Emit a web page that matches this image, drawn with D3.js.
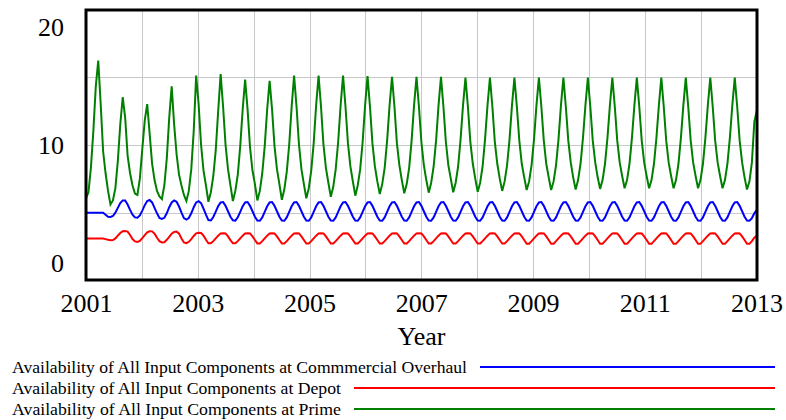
<!DOCTYPE html>
<html><head><meta charset="utf-8">
<script src="https://cdn.jsdelivr.net/npm/d3@7"></script>
<style>
body{margin:0;background:#fff}
svg{display:block}
text{font-family:"Liberation Serif","Times New Roman",serif;fill:#000}
</style>
</head><body>
<svg id="chart" width="786" height="420"></svg>
<script>
// ---------- data ----------
const seriesNames = [
  "Availability of All Input Components at Commmercial Overhaul",
  "Availability of All Input Components at Depot",
  "Availability of All Input Components at Prime"
];
const seriesColors = ["#0000ff", "#ff0000", "#008000"];
const startYear = 2001;
const sampleStep = 0.043815; // years between saved values

const commercialOverhaul = [
  5.0,5.0,5.0,5.0,5.0,5.0,5.0,5.0,4.85,4.7,
  4.68,4.75,5.0,5.35,5.7,5.9,5.9,5.6,5.2,4.85,
  4.65,4.62,4.8,5.15,5.55,5.85,5.93,5.75,5.35,4.95,
  4.6,4.53,4.62,4.95,5.4,5.75,5.9,5.8,5.45,5.0,
  4.6,4.49,4.6,4.95,5.4,5.75,5.85,5.7,5.3,4.85,
  4.45,4.42,4.68,5.08,5.48,5.75,5.78,5.5,5.1,4.7,
  4.43,4.41,4.66,5.06,5.47,5.75,5.78,5.5,5.1,4.7,
  4.42,4.4,4.65,5.05,5.47,5.75,5.78,5.5,5.1,4.7,
  4.42,4.4,4.65,5.05,5.47,5.75,5.78,5.5,5.1,4.7,
  4.42,4.4,4.65,5.05,5.47,5.75,5.78,5.5,5.1,4.7,
  4.42,4.4,4.65,5.05,5.47,5.75,5.78,5.5,5.1,4.7,
  4.42,4.4,4.65,5.05,5.47,5.75,5.78,5.5,5.1,4.7,
  4.42,4.4,4.65,5.05,5.47,5.75,5.78,5.5,5.1,4.7,
  4.42,4.4,4.65,5.05,5.47,5.75,5.78,5.5,5.1,4.7,
  4.42,4.4,4.65,5.05,5.47,5.75,5.78,5.5,5.1,4.7,
  4.42,4.4,4.65,5.05,5.47,5.75,5.78,5.5,5.1,4.7,
  4.42,4.4,4.65,5.05,5.47,5.75,5.78,5.5,5.1,4.7,
  4.42,4.4,4.65,5.05,5.47,5.75,5.78,5.5,5.1,4.7,
  4.42,4.4,4.65,5.05,5.47,5.75,5.78,5.5,5.1,4.7,
  4.42,4.4,4.65,5.05,5.47,5.75,5.78,5.5,5.1,4.7,
  4.42,4.4,4.65,5.05,5.47,5.75,5.78,5.5,5.1,4.7,
  4.42,4.4,4.65,5.05,5.47,5.75,5.78,5.5,5.1,4.7,
  4.42,4.4,4.65,5.05,5.47,5.75,5.78,5.5,5.1,4.7,
  4.42,4.4,4.65,5.05,5.47,5.75,5.78,5.5,5.1,4.7,
  4.42,4.4,4.65,5.05,5.47,5.75,5.78,5.5,5.1,4.7,
  4.42,4.4,4.65,5.05,5.47,5.75,5.78,5.5,5.1,4.7,
  4.42,4.4,4.65,5.05,5.47,5.75,5.78,5.5,5.1,4.7,
  4.42,4.4,4.6,4.95,5.2
];

const depot = [
  3.1,3.1,3.1,3.1,3.1,3.1,3.1,3.1,3.05,3.0,
  2.96,2.98,3.1,3.3,3.5,3.63,3.65,3.6,3.35,3.05,
  2.88,2.84,2.92,3.12,3.35,3.55,3.63,3.62,3.45,3.15,
  2.9,2.8,2.82,3.0,3.22,3.45,3.58,3.6,3.45,3.1,
  2.8,2.75,2.85,3.05,3.28,3.47,3.52,3.5,3.3,3.0,
  2.74,2.74,2.9,3.1,3.3,3.47,3.48,3.47,3.25,2.98,
  2.74,2.74,2.9,3.1,3.3,3.47,3.48,3.47,3.25,2.98,
  2.73,2.73,2.9,3.1,3.3,3.47,3.48,3.47,3.25,2.98,
  2.73,2.73,2.9,3.1,3.3,3.47,3.48,3.47,3.25,2.98,
  2.72,2.72,2.9,3.1,3.3,3.47,3.48,3.47,3.25,2.98,
  2.72,2.72,2.9,3.1,3.3,3.47,3.48,3.47,3.25,2.98,
  2.72,2.72,2.9,3.1,3.3,3.47,3.48,3.47,3.25,2.98,
  2.72,2.72,2.9,3.1,3.3,3.47,3.48,3.47,3.25,2.98,
  2.72,2.72,2.9,3.1,3.3,3.47,3.48,3.47,3.25,2.98,
  2.72,2.72,2.9,3.1,3.3,3.47,3.48,3.47,3.25,2.98,
  2.72,2.72,2.9,3.1,3.3,3.47,3.48,3.47,3.25,2.98,
  2.72,2.72,2.9,3.1,3.3,3.47,3.48,3.47,3.25,2.98,
  2.72,2.72,2.9,3.1,3.3,3.47,3.48,3.47,3.25,2.98,
  2.71,2.71,2.9,3.1,3.3,3.47,3.48,3.47,3.25,2.98,
  2.71,2.71,2.9,3.1,3.3,3.47,3.48,3.47,3.25,2.98,
  2.71,2.71,2.9,3.1,3.3,3.47,3.48,3.47,3.25,2.98,
  2.71,2.71,2.9,3.1,3.3,3.47,3.48,3.47,3.25,2.98,
  2.7,2.7,2.9,3.1,3.3,3.47,3.48,3.47,3.25,2.98,
  2.7,2.7,2.9,3.1,3.3,3.47,3.48,3.47,3.25,2.98,
  2.7,2.7,2.9,3.1,3.3,3.47,3.48,3.47,3.25,2.98,
  2.7,2.7,2.9,3.1,3.3,3.47,3.48,3.47,3.25,2.98,
  2.7,2.7,2.9,3.1,3.3,3.47,3.48,3.47,3.25,2.98,
  2.7,2.7,2.9,3.15,3.3
];

const prime = [
  6.05,6.5,8.3,11.0,14.3,16.2,13.0,9.5,7.9,6.6,
  5.6,5.9,6.8,8.8,11.5,13.5,12.0,9.2,7.9,7.0,
  6.4,6.3,7.5,9.7,11.8,13.0,10.8,8.6,7.4,6.6,
  6.2,6.0,7.0,9.0,12.0,14.3,11.5,9.3,7.8,7.0,
  6.3,5.85,6.6,8.2,11.0,15.1,13.0,10.0,8.1,7.0,
  5.8,6.5,7.7,9.6,12.5,15.2,12.8,10.0,8.2,7.0,
  5.85,6.6,7.8,9.9,12.6,14.8,12.6,9.8,8.1,7.1,
  5.9,6.6,7.9,9.9,12.6,14.7,12.6,9.9,8.2,7.1,
  5.95,6.7,8.0,10.0,12.8,15.1,12.8,10.0,8.2,7.1,
  6.05,6.8,8.1,10.1,12.9,15.1,12.8,10.0,8.3,7.2,
  6.17,6.9,8.2,10.2,12.9,15.1,12.8,10.1,8.4,7.3,
  6.25,7.0,8.2,10.2,12.9,15.05,12.8,10.1,8.4,7.3,
  6.37,7.1,8.3,10.3,12.9,15.0,12.8,10.1,8.5,7.4,
  6.42,7.1,8.3,10.3,12.9,15.0,12.8,10.2,8.5,7.4,
  6.47,7.2,8.4,10.3,12.9,15.0,12.8,10.2,8.5,7.5,
  6.5,7.2,8.4,10.4,12.9,14.95,12.8,10.2,8.6,7.5,
  6.54,7.2,8.4,10.4,12.9,14.95,12.8,10.2,8.6,7.5,
  6.6,7.3,8.5,10.4,12.9,14.95,12.8,10.3,8.6,7.6,
  6.67,7.3,8.5,10.4,12.9,14.95,12.8,10.3,8.6,7.6,
  6.67,7.3,8.5,10.4,12.9,14.95,12.8,10.3,8.7,7.6,
  6.7,7.4,8.6,10.5,12.9,14.95,12.8,10.3,8.7,7.6,
  6.75,7.4,8.6,10.5,12.9,14.95,12.8,10.3,8.7,7.7,
  6.8,7.4,8.6,10.5,12.9,14.95,12.8,10.3,8.7,7.7,
  6.8,7.4,8.6,10.5,12.9,14.95,12.8,10.3,8.7,7.7,
  6.8,7.4,8.6,10.5,12.9,14.95,12.8,10.3,8.7,7.7,
  6.8,7.4,8.6,10.5,12.9,14.95,12.8,10.3,8.7,7.7,
  6.8,7.4,8.6,10.5,12.9,14.95,12.8,10.3,8.7,7.6,
  6.7,7.3,8.7,11.7,12.5
];

const xTickYears = [2001, 2003, 2005, 2007, 2009, 2011, 2013];
const xGridYears = [2002, 2003, 2004, 2005, 2006, 2007, 2008, 2009, 2010, 2011, 2012];
const yTickValues = [0, 10, 20];
const yGridValues = [5, 10, 15];
const xTitle = "Year";

// ---------- layout ----------
const serif = '"Liberation Serif", "Times New Roman", "DejaVu Serif", serif';
const svg = d3.select("#chart");
const plot = {left: 86, right: 757, top: 10, bottom: 280};
const x = d3.scaleLinear().domain([2001, 2013]).range([86, 756.5]);
const y = d3.scaleLinear().domain([0, 20]).range([280.5, 9]);

svg.append("defs").append("clipPath").attr("id", "clip")
  .append("rect").attr("x", plot.left).attr("y", plot.top)
  .attr("width", plot.right - plot.left).attr("height", plot.bottom - plot.top);

// grid
const grid = svg.append("g").attr("stroke", "#c8c8c8").attr("stroke-width", 1);
grid.selectAll("line.v").data(xGridYears).join("line").attr("class", "v")
  .attr("x1", d => Math.round(x(d)) + 0.5).attr("x2", d => Math.round(x(d)) + 0.5)
  .attr("y1", plot.top).attr("y2", plot.bottom);
grid.selectAll("line.h").data(yGridValues).join("line").attr("class", "h")
  .attr("y1", d => Math.round(y(d)) + 0.5).attr("y2", d => Math.round(y(d)) + 0.5)
  .attr("x1", plot.left).attr("x2", plot.right);

// series
const series = [commercialOverhaul, depot, prime];
const lines = svg.append("g").attr("clip-path", "url(#clip)");
const line = d3.line()
  .x((d, i) => x(startYear + i * sampleStep))
  .y(d => y(d))
  .curve(d3.curveLinear);
series.forEach((vals, s) => {
  lines.append("path").datum(vals)
    .attr("fill", "none").attr("stroke", seriesColors[s])
    .attr("stroke-width", 2)
    .attr("d", line);
});

// frame
svg.append("rect").attr("x", plot.left).attr("y", plot.top)
  .attr("width", plot.right - plot.left).attr("height", plot.bottom - plot.top)
  .attr("fill", "none").attr("stroke", "#000").attr("stroke-width", 3);

// x axis labels
const xAxis = d3.axisBottom(x).tickValues(xTickYears).tickFormat(d3.format("d"))
  .tickSize(0).tickPadding(14);
const gx = svg.append("g").attr("transform", `translate(0,${plot.bottom})`).call(xAxis);
gx.attr("font-family", serif);
gx.select(".domain").remove();
gx.selectAll("text").style("font-family", serif)
  .style("font-size", "26px").attr("fill", "#000");

svg.append("text").attr("x", (plot.left + plot.right) / 2).attr("y", 345)
  .attr("text-anchor", "middle").style("font-family", serif).style("font-size", "26px").text(xTitle);

// y labels (top label hangs below the top, bottom label sits above the bottom)
const yMin = d3.min(yTickValues), yMax = d3.max(yTickValues);
svg.selectAll("text.ylab").data(yTickValues).join("text").attr("class", "ylab")
  .attr("x", 64).attr("text-anchor", "end").style("font-family", serif).style("font-size", "26px")
  .attr("y", d => y(d) + (d === yMax ? 27 : d === yMin ? -8.5 : 9))
  .text(d => d);

// legend
const legendRows = [367, 388, 409];
const legendTextEnd = [467, 341, 341];
const legend = svg.append("g");
seriesNames.forEach((name, s) => {
  legend.append("text").attr("x", 12).attr("y", legendRows[s] + 5.5)
    .style("font-family", serif).style("font-size", "17px")
    .attr("textLength", legendTextEnd[s] - 12).attr("lengthAdjust", "spacingAndGlyphs")
    .text(name);
  legend.append("line")
    .attr("x1", legendTextEnd[s] + 13).attr("x2", 775)
    .attr("y1", legendRows[s]).attr("y2", legendRows[s])
    .attr("stroke", seriesColors[s]).attr("stroke-width", 2);
});
</script>
</body></html>
